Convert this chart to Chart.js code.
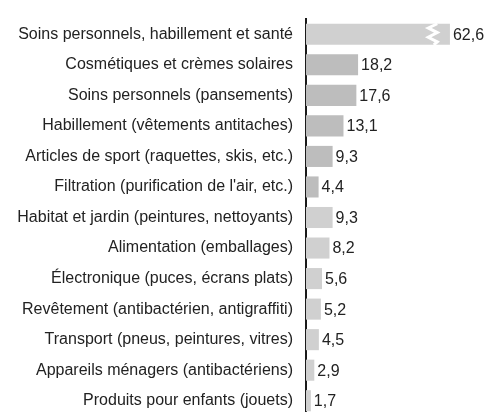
<!DOCTYPE html>
<html>
<head>
<meta charset="utf-8">
<script src="https://cdn.jsdelivr.net/npm/chart.js@4/dist/chart.umd.min.js"></script>
<style>
    html, body { margin: 0; padding: 0; background: #fff; overflow: hidden; }
    #wrap { position: relative; width: 492px; height: 416px; }
</style>
</head>
<body>
<div id="wrap"><canvas id="chart"></canvas></div>
<script>
// Categories and values (millions)
const categories = [
    'Soins personnels, habillement et santé',
    'Cosmétiques et crèmes solaires',
    'Soins personnels (pansements)',
    'Habillement (vêtements antitaches)',
    'Articles de sport (raquettes, skis, etc.)',
    'Filtration (purification de l\'air, etc.)',
    'Habitat et jardin (peintures, nettoyants)',
    'Alimentation (emballages)',
    'Électronique (puces, écrans plats)',
    'Revêtement (antibactérien, antigraffiti)',
    'Transport (pneus, peintures, vitres)',
    'Appareils ménagers (antibactériens)',
    'Produits pour enfants (jouets)'
];
const values = [62.6, 18.2, 17.6, 13.1, 9.3, 4.4, 9.3, 8.2, 5.6, 5.2, 4.5, 2.9, 1.7];

// The total bar is cut off at this value and marked with a break
const breakAt = 50.3;
const breakMark = 44.3;

const FONT = '"Liberation Sans", Arial, sans-serif';
const LIGHT = '#d0d0d0';
const DARK = '#bdbdbd';

const fmt = v => v.toFixed(1).replace('.', ',');

const valueLabels = {
    id: 'valueLabels',
    afterDatasetsDraw(chart) {
        const ctx = chart.ctx;
        const meta = chart.getDatasetMeta(0);
        const xScale = chart.scales.x;
        ctx.save();

        // break mark on cut bars
        meta.data.forEach((bar, i) => {
            if (values[i] <= breakAt) return;
            const xm = xScale.getPixelForValue(breakMark);
            const top = bar.y - bar.height / 2;
            const h = bar.height;
            ctx.beginPath();
            ctx.moveTo(xm + 4.5, top);
            ctx.lineTo(xm - 4.5, top + h * 0.2);
            ctx.lineTo(xm + 4.5, top + h * 0.42);
            ctx.lineTo(xm - 4.5, top + h * 0.64);
            ctx.lineTo(xm + 4.5, top + h * 0.86);
            ctx.lineTo(xm + 1, top + h);
            ctx.strokeStyle = '#ffffff';
            ctx.lineWidth = 3;
            ctx.stroke();
        });

        ctx.font = '16px ' + FONT;
        ctx.fillStyle = '#222';
        ctx.textBaseline = 'middle';
        ctx.textAlign = 'left';
        meta.data.forEach((bar, i) => {
            ctx.fillText(fmt(values[i]), bar.x + 3, bar.y + 1);
        });
        ctx.restore();
    }
};

new Chart(document.getElementById('chart'), {
    type: 'bar',
    data: {
        labels: categories,
        datasets: [{
            data: values.map(v => Math.min(v, breakAt)),
            backgroundColor: values.map((v, i) => (i >= 1 && i <= 5) ? DARK : LIGHT),
            borderWidth: 0,
            barPercentage: 0.69,
            categoryPercentage: 1
        }]
    },
    options: {
        indexAxis: 'y',
        responsive: true,
        maintainAspectRatio: false,
        animation: false,
        layout: { padding: { top: 19, right: 0, bottom: 0, left: 0 } },
        plugins: {
            legend: { display: false },
            tooltip: { enabled: false }
        },
        scales: {
            x: {
                display: false,
                min: 0,
                max: 65
            },
            y: {
                afterFit(scale) {
                    scale.width = 306;
                    scale.paddingTop = 0;
                    scale.paddingBottom = 0;
                },
                grid: { display: false, drawTicks: false },
                border: { display: true, color: '#1a1a1a', width: 2 },
                ticks: {
                    padding: 13,
                    color: '#222',
                    font: { family: FONT, size: 16 }
                }
            }
        }
    },
    plugins: [valueLabels]
});
</script>
</body>
</html>
